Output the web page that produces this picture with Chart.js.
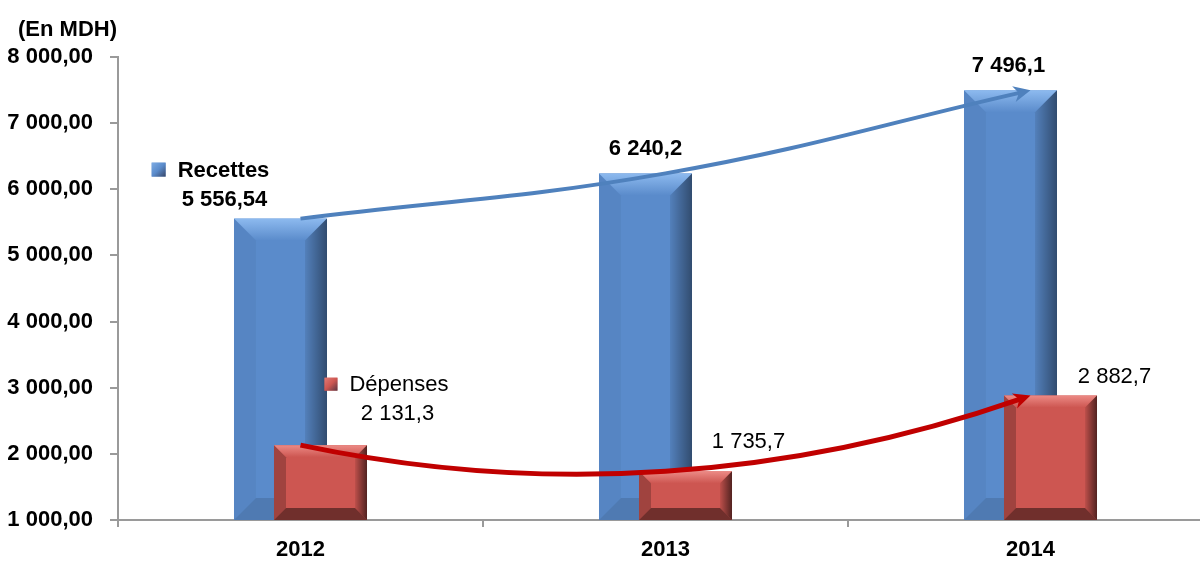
<!DOCTYPE html>
<html>
<head>
    <meta charset="utf-8">
    <title>Recettes et dépenses 2012 - 2014</title>
    <script src="https://cdn.jsdelivr.net/npm/chart.js"></script>
    <style>
        html, body { margin: 0; padding: 0; background: #fff; overflow: hidden; }
        /* l'axe des X continue un peu au-delà du bord droit */
        #cadre { position: relative; width: 1214px; height: 562px; }
    </style>
</head>
<body>
    <div id="cadre"><canvas id="budgetChart"></canvas></div>

    <script>
        // --- Données (en MDH) ---
        const annees = ['2012', '2013', '2014'];
        const recettes = [5556.54, 6240.2, 7496.1];
        const depenses = [2131.3, 1735.7, 2882.7];
        const decimalesRecettes = [2, 1, 1];
        const decimalesDepenses = [1, 1, 1];
        const nomsSeries = ['Recettes', 'Dépenses'];
        const titreUnite = '(En MDH)';
        const yMin = 1000, yMax = 8000, yPas = 1000;

        // position des étiquettes par rapport au haut de chaque barre (px)
        const posRecettes = [{ dx: -56, dy: -19 }, { dx: 0, dy: -24 }, { dx: -2, dy: -24 }];
        const posDepenses = [{ dx: 77, dy: -31 }, { dx: 63, dy: -29 }, { dx: 64, dy: -19 }];
        // ligne "carré + nom de série" au-dessus de la première étiquette
        const legRecettes = { dx: -70, dy: -48 };
        const legDepenses = { dx: 66, dy: -60 };

        const police = '"Liberation Sans", Arial, sans-serif';

        function formatFr(v, dec) {
            const parts = v.toFixed(dec).split('.');
            parts[0] = parts[0].replace(/\B(?=(\d{3})+(?!\d))/g, ' ');
            return parts.join(',');
        }

        const styleRecettes = {
            face: '#5A8BCB', clair: '#8DBAEF', biseau: 22,
            gauche: 0.04, droite: 0.45, bas: 0.12,
            courbe: '#4F81BD', epaisseur: 4, mode: 'spline',
            gras: true
        };
        const styleDepenses = {
            face: '#CD5651', clair: '#EC8A85', biseau: 12,
            gauche: 0.22, droite: 0.6, bas: 0.45,
            courbe: '#C00000', epaisseur: 5, mode: 'parabole',
            gras: false
        };

        function poly(ctx, pts, fill) {
            ctx.beginPath();
            ctx.moveTo(pts[0][0], pts[0][1]);
            for (let i = 1; i < pts.length; i++) ctx.lineTo(pts[i][0], pts[i][1]);
            ctx.closePath();
            ctx.fillStyle = fill;
            ctx.fill();
        }

        // barre en relief (biseau) à partir de l'élément calculé par Chart.js
        function dessinerBarre(ctx, el, s, bas) {
            const L = el.x - el.width / 2, R = el.x + el.width / 2;
            const T = el.y, B = Math.min(el.base, bas);
            const b = Math.min(s.biseau, (B - T) / 2, el.width / 2);

            ctx.fillStyle = s.face;
            ctx.fillRect(L, T, R - L, B - T);

            const gt = ctx.createLinearGradient(0, T, 0, T + b);
            gt.addColorStop(0, s.clair);
            gt.addColorStop(1, s.face);
            poly(ctx, [[L, T], [R, T], [R - b, T + b], [L + b, T + b]], gt);

            poly(ctx, [[L, T], [L + b, T + b], [L + b, B - b], [L, B]], 'rgba(0,0,0,' + s.gauche + ')');

            const gd = ctx.createLinearGradient(R - b, 0, R, 0);
            gd.addColorStop(0, 'rgba(0,0,0,0.08)');
            gd.addColorStop(1, 'rgba(0,0,0,' + s.droite + ')');
            poly(ctx, [[R, T], [R, B], [R - b, B - b], [R - b, T + b]], gd);

            poly(ctx, [[L, B], [L + b, B - b], [R - b, B - b], [R, B]], 'rgba(0,0,0,' + s.bas + ')');
        }

        function carreLegende(ctx, x, y, taille, s) {
            const g = ctx.createLinearGradient(x, y, x + taille, y + taille);
            g.addColorStop(0, s.clair);
            g.addColorStop(0.5, s.face);
            g.addColorStop(1, 'rgba(40,40,60,1)');
            ctx.fillStyle = s.face;
            ctx.fillRect(x, y, taille, taille);
            ctx.fillStyle = g;
            ctx.globalAlpha = 0.7;
            ctx.fillRect(x, y, taille, taille);
            ctx.globalAlpha = 1;
        }

        // tangentes de la courbe de tendance passant par les sommets des barres
        function tangentes(P, mode) {
            const n = P.length, T = [];
            if (mode === 'parabole' && n === 3) {
                const D = { x: P[2].x - 2 * P[1].x + P[0].x, y: P[2].y - 2 * P[1].y + P[0].y };
                const d = { x: P[1].x - P[0].x, y: P[1].y - P[0].y };
                T.push({ x: d.x - D.x / 2, y: d.y - D.y / 2 });
                T.push({ x: d.x + D.x / 2, y: d.y + D.y / 2 });
                T.push({ x: d.x + 1.5 * D.x, y: d.y + 1.5 * D.y });
                return T;
            }
            for (let i = 0; i < n; i++) {
                const a = P[Math.max(i - 1, 0)], c = P[Math.min(i + 1, n - 1)];
                const k = (i === 0 || i === n - 1) ? 1.2 : 0.6;
                T.push({ x: (c.x - a.x) * k, y: (c.y - a.y) * k });
            }
            return T;
        }

        function dessinerFleche(ctx, P, s) {
            const T = tangentes(P, s.mode);
            const n = P.length;
            const fin = T[n - 1];
            const lg = Math.hypot(fin.x, fin.y);
            const ux = fin.x / lg, uy = fin.y / lg;
            const longueur = 17, demi = 8;
            const bout = { x: P[n - 1].x - ux * longueur * 0.6, y: P[n - 1].y - uy * longueur * 0.6 };

            ctx.save();
            ctx.strokeStyle = s.courbe;
            ctx.lineWidth = s.epaisseur;
            ctx.lineCap = 'butt';
            ctx.beginPath();
            ctx.moveTo(P[0].x, P[0].y);
            for (let i = 0; i < n - 1; i++) {
                const fin2 = (i === n - 2) ? bout : P[i + 1];
                ctx.bezierCurveTo(
                    P[i].x + T[i].x / 3, P[i].y + T[i].y / 3,
                    P[i + 1].x - T[i + 1].x / 3, P[i + 1].y - T[i + 1].y / 3,
                    fin2.x, fin2.y);
            }
            ctx.stroke();

            // pointe
            ctx.translate(P[n - 1].x, P[n - 1].y);
            ctx.rotate(Math.atan2(uy, ux));
            ctx.beginPath();
            ctx.moveTo(0, 0);
            ctx.lineTo(-longueur, -demi);
            ctx.lineTo(-longueur * 0.7, 0);
            ctx.lineTo(-longueur, demi);
            ctx.closePath();
            ctx.fillStyle = s.courbe;
            ctx.fill();
            ctx.restore();
        }

        const reliefPlugin = {
            id: 'relief',
            beforeDatasetDraw(chart, args) {
                // les barres sont dessinées par beforeDatasetsDraw
                if (args.meta.type === 'bar') return false;
            },
            beforeDatasetsDraw(chart) {
                const ctx = chart.ctx;
                const bas = chart.chartArea.bottom;
                [[0, styleRecettes], [1, styleDepenses]].forEach(([i, s]) => {
                    chart.getDatasetMeta(i).data.forEach(el => dessinerBarre(ctx, el, s, bas));
                });
            },
            afterDatasetsDraw(chart) {
                const ctx = chart.ctx;
                const xs = chart.scales.x;
                [[0, styleRecettes], [1, styleDepenses]].forEach(([i, s]) => {
                    const vals = chart.data.datasets[i].data;
                    const P = vals.map((v, j) => ({ x: xs.getPixelForValue(j), y: chart.scales.y.getPixelForValue(v) }));
                    dessinerFleche(ctx, P, s);
                });

                // étiquettes de valeurs
                ctx.save();
                ctx.fillStyle = '#000';
                ctx.textBaseline = 'middle';
                const series = [
                    [0, styleRecettes, decimalesRecettes, posRecettes, legRecettes, 14],
                    [1, styleDepenses, decimalesDepenses, posDepenses, legDepenses, 13]
                ];
                series.forEach(([i, s, decs, pos, leg, carre]) => {
                    const meta = chart.getDatasetMeta(i);
                    const vals = chart.data.datasets[i].data;
                    ctx.font = (s.gras ? 'bold ' : '') + '22px ' + police;
                    meta.data.forEach((el, j) => {
                        ctx.textAlign = 'center';
                        ctx.fillText(formatFr(vals[j], decs[j]), el.x + pos[j].dx, el.y + pos[j].dy);
                    });
                    const el0 = meta.data[0];
                    const nom = nomsSeries[i];
                    const wNom = ctx.measureText(nom).width;
                    const total = carre + 12 + wNom;
                    const cx = el0.x + leg.dx, cy = el0.y + leg.dy;
                    const x0 = cx - total / 2;
                    carreLegende(ctx, x0, cy - carre / 2 - 1, carre, s);
                    ctx.fillStyle = '#000';
                    ctx.textAlign = 'left';
                    ctx.fillText(nom, x0 + carre + 12, cy);
                });

                // unité au-dessus de l'axe des Y
                ctx.font = 'bold 22px ' + police;
                ctx.textAlign = 'right';
                ctx.fillText(titreUnite, chart.chartArea.left - 1, 30);
                ctx.restore();
            }
        };

        const gris = '#9a9a9a';
        const ctx = document.getElementById('budgetChart').getContext('2d');
        new Chart(ctx, {
            type: 'bar',
            data: {
                labels: annees,
                datasets: [
                    { label: nomsSeries[0], data: recettes, backgroundColor: styleRecettes.face },
                    { label: nomsSeries[1], data: depenses, backgroundColor: styleDepenses.face }
                ]
            },
            options: {
                responsive: true,
                maintainAspectRatio: false,
                animation: false,
                // deux barres décalées de 40 px qui se chevauchent
                categoryPercentage: 0.2192,
                barPercentage: 2.325,
                layout: { padding: { top: 57, right: 1, left: 0, bottom: 0 } },
                plugins: {
                    legend: { display: false },
                    tooltip: { enabled: false }
                },
                scales: {
                    x: {
                        offset: true,
                        afterFit(scale) { scale.height = 42; },
                        grid: { drawOnChartArea: false, drawTicks: true, tickLength: 7, color: gris, lineWidth: 2, offset: true },
                        border: { display: true, color: gris, width: 2 },
                        ticks: { color: '#000', padding: 10, font: { family: police, size: 22, weight: 'bold' } }
                    },
                    y: {
                        min: yMin,
                        max: yMax,
                        afterFit(scale) { scale.width = 118; },
                        grid: { drawOnChartArea: false, drawTicks: true, tickLength: 8, color: gris, lineWidth: 2 },
                        border: { display: true, color: gris, width: 2 },
                        ticks: {
                            stepSize: yPas,
                            padding: 17,
                            color: '#000',
                            font: { family: police, size: 22, weight: 'bold' },
                            callback: v => formatFr(v, 2)
                        }
                    }
                }
            },
            plugins: [reliefPlugin]
        });
    </script>
</body>
</html>
